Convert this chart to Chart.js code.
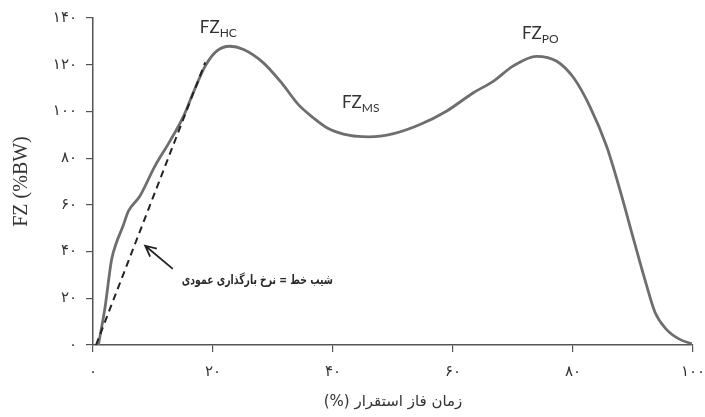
<!DOCTYPE html>
<html>
<head>
<meta charset="utf-8">
<script src="https://cdn.jsdelivr.net/npm/chart.js@4.4.1/dist/chart.umd.min.js"></script>
<style>
  html, body { margin: 0; padding: 0; background: #fff; }
  #wrap { width: 705px; height: 417px; }
</style>
</head>
<body>
<div id="wrap"><canvas id="chart" width="705" height="417"></canvas></div>
<script>
// vertical ground reaction force over the stance phase
const stanceTime = [0.9, 2.0, 3.1, 3.9, 5.0, 5.9, 7.8, 10.3, 12.8, 15.1, 16.7, 18.7, 20.6, 22.8, 25.1,
  28.4, 31.5, 34.2, 36.7, 39.2, 42.8, 45.9, 50.1, 54.5, 58.9, 63.4, 66.7, 70.0, 73.9, 77.3,
  80.1, 82.8, 85.6, 87.8, 90.1, 92.3, 93.7, 95.6, 97.8, 99.8];
const forceZ = [0, 16, 36.6, 43.8, 50.9, 57.3, 63.7, 76.5, 87.2, 98, 108, 119.4, 125.8, 127.9, 126.5,
  120.8, 112, 103, 97.3, 92.7, 89.7, 89.1, 90.5, 94.4, 100.1, 108, 112.9, 119.4, 123.6, 121.5,
  114.4, 102.2, 85.1, 66.6, 45.2, 25.2, 13.8, 6.6, 2.4, 0.5];

// loading-rate slope line
const slopeTime = [0.5, 18.7];
const slopeForce = [0, 121];

const xTickValues = [0, 20, 40, 60, 80, 100];
const xTickLabels = ["۰", "۲۰", "۴۰", "۶۰", "۸۰", "۱۰۰"];
const yTickValues = [0, 20, 40, 60, 80, 100, 120, 140];
const yTickLabels = ["۰", "۲۰", "۴۰", "۶۰", "۸۰", "۱۰۰", "۱۲۰", "۱۴۰"];

const xTitle = "\u202Bزمان فاز استقرار (%)\u202C";
const yTitle = "FZ (%BW)";
const slopeNote = "شیب خط = نرخ بارگذاری عمودی";
const peakNames = ["HC", "MS", "PO"];

const AXIS_COLOR = "#555";
const TEXT_COLOR = "#333";
const PERSIAN_FONT = "\"DejaVu Sans\", sans-serif";

const annotations = {
  id: "annotations",
  afterDatasetsDraw(chart) {
    const { ctx } = chart;
    const x = chart.scales.x;
    const y = chart.scales.y;
    const px = (v) => x.getPixelForValue(v);
    const py = (v) => y.getPixelForValue(v);

    // peak labels
    const anchors = [[17.8, 133.6], [41.5, 101.3], [71.5, 130.8]];
    ctx.save();
    ctx.fillStyle = TEXT_COLOR;
    ctx.textBaseline = "alphabetic";
    ctx.textAlign = "left";
    peakNames.forEach((name, i) => {
      const lx = px(anchors[i][0]);
      const ly = py(anchors[i][1]);
      ctx.font = "17px Lato";
      ctx.fillText("FZ", lx, ly);
      const w = ctx.measureText("FZ").width;
      ctx.font = "12px Lato";
      ctx.fillText(name, lx + w, ly + 4);
    });

    // arrow pointing at the slope line
    const tipX = px(8.7), tipY = py(42.5);
    const tailX = px(13.3), tailY = py(32.6);
    const angle = Math.atan2(tailY - tipY, tailX - tipX);
    ctx.strokeStyle = "#222";
    ctx.lineWidth = 1.8;
    ctx.beginPath();
    ctx.moveTo(tailX, tailY);
    ctx.lineTo(tipX, tipY);
    ctx.moveTo(tipX + 12 * Math.cos(angle - 0.45), tipY + 12 * Math.sin(angle - 0.45));
    ctx.lineTo(tipX, tipY);
    ctx.lineTo(tipX + 12 * Math.cos(angle + 0.45), tipY + 12 * Math.sin(angle + 0.45));
    ctx.stroke();

    const noteRight = px(40);
    const noteLeft = px(14.8);
    ctx.font = "bold 13px " + PERSIAN_FONT;
    ctx.fillStyle = "#2a2a2a";
    ctx.direction = "rtl";
    ctx.textAlign = "right";
    ctx.textBaseline = "middle";
    ctx.fillText(slopeNote, noteRight, py(27.6), noteRight - noteLeft);
    ctx.restore();
  }
};

new Chart(document.getElementById("chart"), {
  type: "line",
  data: {
    datasets: [
      {
        label: "slope",
        data: slopeTime.map((t, i) => ({ x: t, y: slopeForce[i] })),
        borderColor: "#222",
        borderWidth: 2,
        borderDash: [7, 5],
        pointRadius: 0,
        fill: false
      },
      {
        label: "FZ",
        data: stanceTime.map((t, i) => ({ x: t, y: forceZ[i] })),
        borderColor: "#6e6e6e",
        borderWidth: 2.8,
        pointRadius: 0,
        cubicInterpolationMode: "monotone",
        fill: false
      }
    ]
  },
  options: {
    responsive: false,
    devicePixelRatio: 1,
    animation: false,
    layout: { padding: { top: 18, right: 12, left: 0, bottom: 0 } },
    plugins: {
      legend: { display: false },
      tooltip: { enabled: false }
    },
    scales: {
      x: {
        type: "linear",
        min: 0,
        max: 100,
        afterFit: (s) => { s.height = 72; s.paddingRight = 0; s.paddingLeft = 0; },
        afterBuildTicks: (s) => { s.ticks = xTickValues.map((v) => ({ value: v })); },
        ticks: {
          callback: (v) => xTickLabels[xTickValues.indexOf(v)],
          color: TEXT_COLOR,
          font: { family: PERSIAN_FONT, size: 15 },
          padding: 11,
          maxRotation: 0
        },
        grid: { drawOnChartArea: false, tickLength: 7, color: AXIS_COLOR, lineWidth: 1.2 },
        border: { color: AXIS_COLOR, width: 1.5 },
        title: {
          display: true,
          text: xTitle,
          color: TEXT_COLOR,
          font: { family: PERSIAN_FONT, size: 15 },
          padding: { top: 4, bottom: 6 }
        }
      },
      y: {
        min: 0,
        max: 140,
        afterFit: (s) => { s.width = 93; s.paddingTop = 0; s.paddingBottom = 0; },
        afterBuildTicks: (s) => { s.ticks = yTickValues.map((v) => ({ value: v })); },
        ticks: {
          callback: (v) => yTickLabels[yTickValues.indexOf(v)],
          color: TEXT_COLOR,
          font: { family: PERSIAN_FONT, size: 15 },
          padding: 9
        },
        grid: { drawOnChartArea: false, tickLength: 7, color: AXIS_COLOR, lineWidth: 1.2 },
        border: { color: AXIS_COLOR, width: 1.5 },
        title: {
          display: true,
          text: yTitle,
          color: TEXT_COLOR,
          font: { family: "\"Liberation Serif\", serif", size: 20 },
          padding: { top: 10, bottom: 0 }
        }
      }
    }
  },
  plugins: [annotations]
});
</script>
</body>
</html>
